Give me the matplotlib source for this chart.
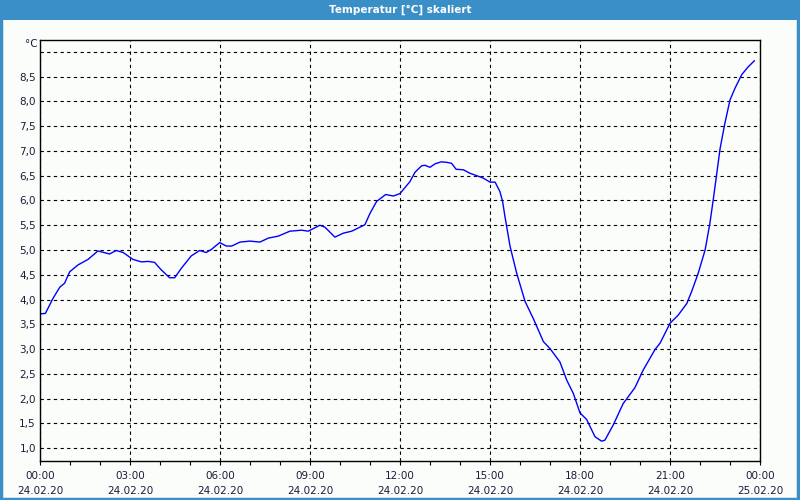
import numpy as np
import matplotlib
matplotlib.use("Agg")
import matplotlib.pyplot as plt
import matplotlib.dates as mdates
from matplotlib.patches import Rectangle
from datetime import datetime, timedelta

# Stunden ab 24.02.20 00:00 und Temperatur in °C
stunden = [0.0, 0.18, 0.43, 0.66, 0.82, 0.99, 1.27, 1.6, 1.93, 2.32, 2.54, 2.77,
           3.1, 3.38, 3.6, 3.82, 4.04, 4.32, 4.49, 4.71, 5.04, 5.32, 5.54, 5.71,
           5.99, 6.21, 6.39, 6.67, 7.0, 7.33, 7.61, 7.94, 8.33, 8.72, 8.94, 9.33,
           9.5, 9.83, 10.11, 10.39, 10.83, 11.0, 11.22, 11.52, 11.78, 12.0, 12.33,
           12.5, 12.72, 12.83, 13.0, 13.17, 13.37, 13.56, 13.72, 13.87, 14.11,
           14.33, 14.56, 14.78, 15.0, 15.17, 15.33, 15.42, 15.5, 15.67, 15.89,
           16.17, 16.44, 16.78, 17.0, 17.33, 17.56, 17.78, 18.0, 18.22, 18.5,
           18.72, 18.83, 19.11, 19.44, 19.83, 20.11, 20.5, 20.67, 21.0, 21.28,
           21.56, 21.72, 21.94, 22.17, 22.33, 22.44, 22.56, 22.67, 22.83, 23.0,
           23.17, 23.39, 23.61, 23.81]
temperatur = [3.71, 3.72, 4.02, 4.25, 4.33, 4.56, 4.70, 4.81, 4.98, 4.92, 4.99, 4.95,
              4.81, 4.76, 4.77, 4.75, 4.60, 4.44, 4.44, 4.63, 4.88, 4.99, 4.95, 5.01,
              5.15, 5.08, 5.08, 5.16, 5.18, 5.16, 5.24, 5.28, 5.38, 5.40, 5.38, 5.50,
              5.46, 5.26, 5.34, 5.38, 5.51, 5.74, 5.98, 6.12, 6.09, 6.14, 6.38,
              6.57, 6.70, 6.71, 6.67, 6.74, 6.78, 6.77, 6.75, 6.63, 6.62,
              6.55, 6.50, 6.45, 6.37, 6.37, 6.18, 5.98, 5.67, 5.07, 4.53,
              3.96, 3.62, 3.15, 3.01, 2.74, 2.37, 2.10, 1.71, 1.58, 1.23,
              1.14, 1.16, 1.47, 1.90, 2.22, 2.58, 2.99, 3.12, 3.52, 3.69,
              3.92, 4.16, 4.53, 5.00, 5.54, 6.01, 6.55, 7.05, 7.56, 8.03,
              8.27, 8.54, 8.70, 8.82]
y_ticks = [1.0, 1.5, 2.0, 2.5, 3.0, 3.5, 4.0, 4.5, 5.0, 5.5, 6.0, 6.5, 7.0, 7.5, 8.0, 8.5, 9.0]
titel = "Temperatur [°C] skaliert"

start = datetime(2020, 2, 24)
zeiten = [start + timedelta(hours=h) for h in stunden]

blau_rahmen = "#3b8fc7"
hintergrund = "#fbfdfb"
textfarbe = "#1c1c3a"

fig = plt.figure(figsize=(8, 5), dpi=100, facecolor=hintergrund)

# Titelleiste und Rahmen
fig.patches.append(Rectangle((0, 1 - 20 / 500), 1, 20 / 500, transform=fig.transFigure,
                             facecolor=blau_rahmen, edgecolor="none", zorder=0))
fig.patches.append(Rectangle((0.001, 0.002), 0.997, 0.996, transform=fig.transFigure,
                             facecolor="none", edgecolor=blau_rahmen, linewidth=2.5, zorder=1))
fig.text(0.5, 1 - 10 / 500, titel, ha="center", va="center", color="white",
         fontsize=7.5, fontweight="bold")

ax = fig.add_axes([40 / 800, 1 - 461 / 500, 720 / 800, 421 / 500])
ax.set_facecolor(hintergrund)
ax.plot(zeiten, temperatur, color="#0000ff", linewidth=1.0)

ax.set_xlim(start, start + timedelta(hours=24))
ax.set_ylim(0.74, 9.24)

ax.xaxis.set_major_locator(mdates.HourLocator(byhour=range(0, 24, 3)))
ax.xaxis.set_minor_locator(mdates.HourLocator())
ax.xaxis.set_major_formatter(mdates.DateFormatter("%H:%M\n%d.%m.%y"))
ax.set_yticks(y_ticks)
ax.set_yticklabels([f"{v:.1f}".replace(".", ",") if v < 9 else "" for v in y_ticks])

ax.grid(True, which="major", color="black", linestyle=(0, (3, 3)), linewidth=0.8)
ax.tick_params(axis="x", which="both", direction="out", length=3, width=0.8,
               color="black", labelsize=7.5, labelcolor=textfarbe, pad=4)
ax.tick_params(axis="y", length=0, labelsize=7.5, labelcolor=textfarbe, pad=3)
for lbl in ax.get_xticklabels():
    lbl.set_linespacing(1.7)
for sp in ax.spines.values():
    sp.set_linewidth(1.0)
    sp.set_color("black")

fig.text(38 / 800, 1 - 44 / 500, "°C", ha="right", va="center", fontsize=7.5, color=textfarbe)

fig.savefig("out.png", dpi=100, facecolor=hintergrund)
